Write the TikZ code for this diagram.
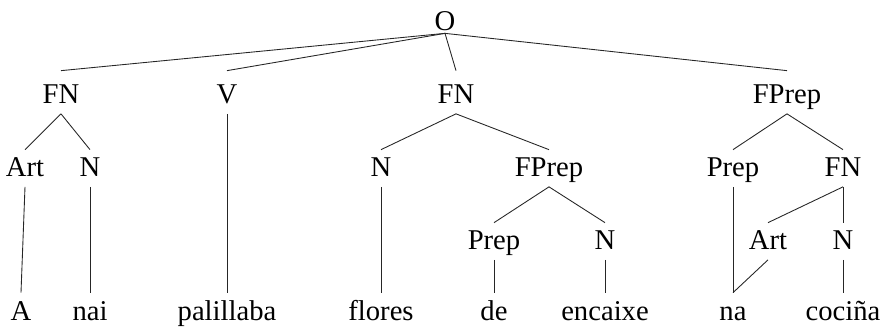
\documentclass[tikz,border=0pt]{standalone}
\usepackage{fontspec}
\setmainfont{Liberation Serif}
\usetikzlibrary{positioning}

\begin{document}
\begin{tikzpicture}[
  cat/.style={anchor=base, inner sep=0pt, text height=0.52cm, text depth=0.21cm,
              font=\fontsize{16.3pt}{19pt}\selectfont},
  catup/.style={cat, text height=0.64cm},
  lf/.style={cat, text height=0.54cm},
  br/.style={line width=0.5pt, black!85}
]
\useasboundingbox (0,0) rectangle (17.78,-6.52);
% root
\node[cat, text depth=0.06cm] (o) at (8.90,-0.60) {O};
% first level
\node[catup] (fn1) at (1.22,-2.06) {FN};
\node[catup] (v) at (4.54,-2.06) {V};
\node[catup] (fn2) at (9.12,-2.06) {FN};
\node[catup] (fp1) at (15.74,-2.06) {FPrep};
% second level
\node[cat] (art1) at (0.50,-3.52) {Art};
\node[cat] (n1) at (1.80,-3.52) {N};
\node[cat] (n2) at (7.62,-3.52) {N};
\node[cat] (fp2) at (10.98,-3.52) {FPrep};
\node[cat] (prep3) at (14.66,-3.52) {Prep};
\node[cat] (fn3) at (16.86,-3.52) {FN};
% third level
\node[cat] (prep2) at (9.88,-4.98) {Prep};
\node[cat] (n3) at (12.10,-4.98) {N};
\node[cat] (art2) at (15.36,-4.98) {Art};
\node[cat] (n4) at (16.86,-4.98) {N};
% words
\node[lf] (w1) at (0.42,-6.40) {A};
\node[lf] (w2) at (1.80,-6.40) {nai};
\node[lf] (w3) at (4.54,-6.40) {palillaba};
\node[lf] (w4) at (7.62,-6.40) {flores};
\node[lf] (w5) at (9.88,-6.40) {de};
\node[lf] (w6) at (12.10,-6.40) {encaixe};
\node[lf] (w7) at (14.66,-6.40) {na};
\node[lf] (w8) at (16.86,-6.40) {cociña};
% branches
\draw[br] (o.south) -- (fn1.north);
\draw[br] (o.south) -- (v.north);
\draw[br] (o.south) -- (fn2.north);
\draw[br] (o.south) -- (fp1.north);
\draw[br] (fn1.south) -- (art1.north);
\draw[br] (fn1.south) -- (n1.north);
\draw[br] (v.south) -- (w3.north);
\draw[br] (fn2.south) -- (n2.north);
\draw[br] (fn2.south) -- (fp2.north);
\draw[br] (fp1.south) -- (prep3.north);
\draw[br] (fp1.south) -- (fn3.north);
\draw[br] (art1.south) -- (w1.north);
\draw[br] (n1.south) -- (w2.north);
\draw[br] (n2.south) -- (w4.north);
\draw[br] (fp2.south) -- (prep2.north);
\draw[br] (fp2.south) -- (n3.north);
\draw[br] (prep3.south) -- (w7.north);
\draw[br] (fn3.south) -- (art2.north);
\draw[br] (fn3.south) -- (n4.north);
\draw[br] (prep2.south) -- (w5.north);
\draw[br] (n3.south) -- (w6.north);
\draw[br] (art2.south) -- (w7.north);
\draw[br] (n4.south) -- (w8.north);
\end{tikzpicture}
\end{document}
